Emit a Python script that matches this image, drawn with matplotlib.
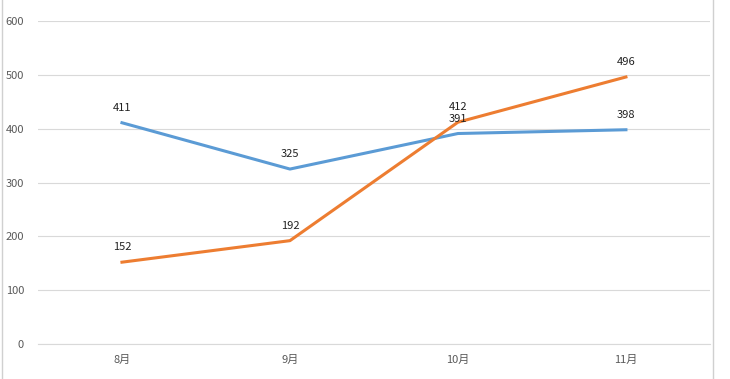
import matplotlib.pyplot as plt

plt.rcParams['font.family'] = ['Noto Sans CJK SC', 'DejaVu Sans']

months = ["8月", "9月", "10月", "11月"]
series_blue = [411, 325, 391, 398]
series_orange = [152, 192, 412, 496]
y_ticks = [0, 100, 200, 300, 400, 500, 600]

fig = plt.figure(figsize=(7.3, 3.79), dpi=100)
ax = fig.add_axes([0.052, 0.0923, 0.9205, 0.8523])

x = list(range(len(months)))
ax.plot(x, series_blue, color="#5B9BD5", linewidth=2.2)
ax.plot(x, series_orange, color="#ED7D31", linewidth=2.2)

for xi, v in zip(x, series_blue):
	ax.annotate(str(v), (xi, v), xytext=(0, 7), textcoords="offset points",
		ha="center", va="bottom", fontsize=8, color="#222222")
for xi, v in zip(x, series_orange):
	ax.annotate(str(v), (xi, v), xytext=(0, 7), textcoords="offset points",
		ha="center", va="bottom", fontsize=8, color="#222222")

ax.set_xlim(-0.5, 3.5)
ax.set_ylim(0, 600)
ax.set_yticks(y_ticks)
ax.set_xticks(x)
ax.set_xticklabels(months)
ax.grid(axis="y", color="#D9D9D9", linewidth=0.8)
ax.set_axisbelow(True)
for s in ["top", "right", "left"]:
	ax.spines[s].set_visible(False)
ax.spines["bottom"].set_color("#D9D9D9")
ax.tick_params(axis="both", length=0, labelsize=8, colors="#595959")
ax.tick_params(axis="x", pad=8)
ax.tick_params(axis="y", pad=10)

fig.add_artist(plt.Line2D([0.003, 0.003], [0, 1], color="#D0D0D0", linewidth=1))
fig.add_artist(plt.Line2D([0.977, 0.977], [0, 1], color="#D0D0D0", linewidth=1))

fig.savefig("out.png", dpi=100)
